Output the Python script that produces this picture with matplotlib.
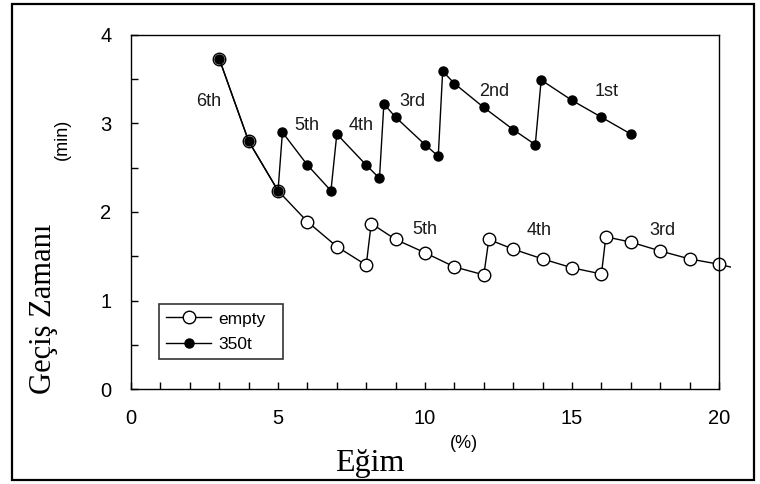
import numpy as np
import matplotlib.pyplot as plt
from matplotlib.patches import Rectangle
from matplotlib.transforms import Bbox, TransformedBbox

# empty (open circles)
x_empty = [3, 4, 5, 6, 7, 8, 8.17, 9, 10, 11, 12, 12.17, 13, 14, 15, 16, 16.15, 17, 18, 19, 20, 21]
y_empty = [3.73, 2.80, 2.24, 1.89, 1.61, 1.40, 1.87, 1.69, 1.54, 1.38, 1.29, 1.69, 1.58, 1.47, 1.37, 1.30, 1.72, 1.66, 1.56, 1.47, 1.41, 1.33]

# 350t (filled dots)
x_load = [3, 4, 5, 5.15, 6, 6.8, 7, 8, 8.45, 8.6, 9, 10, 10.45, 10.6, 11, 12, 13, 13.75, 13.95, 15, 16, 17]
y_load = [3.73, 2.80, 2.24, 2.90, 2.53, 2.24, 2.88, 2.53, 2.38, 3.22, 3.07, 2.76, 2.63, 3.59, 3.45, 3.18, 2.93, 2.76, 3.49, 3.26, 3.07, 2.88]

# gear labels
load_lbl = ['6th', '5th', '4th', '3rd', '2nd', '1st']
load_lbl_x = [2.65, 5.97, 7.84, 9.57, 12.36, 16.16]
load_lbl_y = [3.25, 2.98, 2.98, 3.25, 3.36, 3.36]
empty_lbl = ['5th', '4th', '3rd']
empty_lbl_x = [9.98, 13.88, 18.06]
empty_lbl_y = [1.80, 1.79, 1.79]

sans = 'Liberation Sans'
serif = 'Liberation Serif'
plt.rcParams['font.family'] = sans

fig = plt.figure(figsize=(7.6, 4.84), dpi=100)
ax = fig.add_axes([0.1724, 0.196, 0.7737, 0.732])

l1, = ax.plot(x_empty, y_empty, '-o', color='black', lw=1.0, ms=9,
              mfc='white', mec='black', mew=1.0, label='empty', zorder=2)
# let the last segment poke slightly past the right spine
l1.set_clip_box(TransformedBbox(Bbox([[0, 0], [1.02, 1]]), ax.transAxes))
ax.plot(x_load, y_load, '-o', color='black', lw=1.0, ms=6.5,
        mfc='black', mec='black', label='350t', zorder=3)

for t, x, y in zip(load_lbl, load_lbl_x, load_lbl_y):
    ax.text(x, y, t, ha='center', va='center', fontsize=13, color='#1a1a1a')
for t, x, y in zip(empty_lbl, empty_lbl_x, empty_lbl_y):
    ax.text(x, y, t, ha='center', va='center', fontsize=13, color='#1a1a1a')

ax.set_xlim(0, 20)
ax.set_ylim(0, 4)
ax.set_xticks([0, 5, 10, 15, 20])
ax.set_xticks(np.arange(0, 21, 1), minor=True)
ax.set_yticks([0, 1, 2, 3, 4])
ax.set_yticks(np.arange(0, 4.01, 0.5), minor=True)
ax.tick_params(which='both', direction='in', length=5, width=1,
               top=False, right=False, labelsize=14.5, pad=14)
for s in ax.spines.values():
    s.set_linewidth(1.0)

leg = ax.legend(loc='lower left', bbox_to_anchor=(0.048, 0.085, 0.211, 0.195),
                mode='expand', fontsize=12.5, frameon=True, fancybox=False,
                edgecolor='black', handlelength=2.6, borderaxespad=0,
                handletextpad=0.4, labelspacing=0.6)
leg.get_frame().set_linewidth(1.2)

fig.text(0.057, 0.362, 'Geçiş Zamanı', rotation=90, ha='center', va='center',
         fontsize=22, family=serif)
fig.text(0.082, 0.712, '(min)', rotation=90, ha='center', va='center', fontsize=13)
fig.text(0.487, 0.043, 'Eğim', ha='center', va='center', fontsize=23, family=serif)
fig.text(0.611, 0.083, '(%)', ha='center', va='center', fontsize=13)

fig.patches.append(Rectangle((0.016, 0.008), 0.976, 0.983, transform=fig.transFigure,
                             fill=False, edgecolor='black', linewidth=1.6))

fig.savefig('out.png', dpi=100)
